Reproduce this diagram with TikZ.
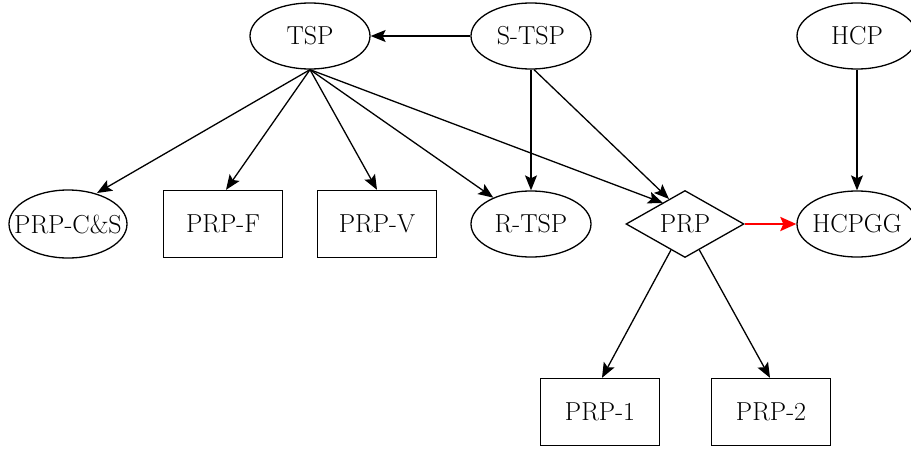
\documentclass[tikz,border=0pt]{standalone}
\usetikzlibrary{shapes.geometric,arrows.meta}
\begin{document}
\begin{tikzpicture}[x=1pt,y=-1pt,
  every node/.style={font=\fontsize{26}{30}\selectfont, line width=1.3pt, inner sep=0pt},
  ell/.style={draw, ellipse, inner xsep=-16pt, minimum width=120pt, minimum height=66pt},
  box/.style={draw, rectangle, minimum width=119pt, minimum height=67pt},
  dia/.style={draw, diamond, aspect=1.76, minimum width=118pt, minimum height=67pt},
  arr/.style={line width=1.3pt, -{Stealth[length=15pt,width=12pt,inset=3pt]}},
  redarr/.style={line width=2.6pt, red, -{Stealth[length=16pt,width=14pt,inset=3pt]}}]
\useasboundingbox (0,0) rectangle (911,450);
\node[ell] (tsp) at (310,36) {TSP};
\node[ell] (stsp) at (531,36) {S-TSP};
\node[ell] (hcp) at (857,36) {HCP};
\node[ell, minimum width=118pt, minimum height=68pt] (prpcs) at (68,224) {PRP-C\&S};
\node[box] (prpf) at (223,224) {PRP-F};
\node[box] (prpv) at (377,224) {PRP-V};
\node[ell] (rtsp) at (531,224) {R-TSP};
\node[dia] (prp) at (685,224) {PRP};
\node[ell] (hcpgg) at (857,224) {HCPGG};
\node[box] (prp1) at (600,412) {PRP-1};
\node[box] (prp2) at (771,412) {PRP-2};
\coordinate (cse) at (97,193);
\coordinate (prpa) at (663,203);
\coordinate (prpb) at (669,199);
\draw[arr] (stsp) -- (tsp);
\draw[arr] (tsp.south) -- (cse);
\draw[arr] (tsp.south) -- ([xshift=3pt]prpf.north);
\draw[arr] (tsp.south) -- (prpv.north);
\draw[arr] (tsp.south) -- (rtsp);
\draw[arr] (tsp.south) -- (prpa);
\draw[arr] (stsp.south) -- (rtsp.north);
\draw[arr] ([xshift=3pt]stsp.south) -- (prpb);
\draw[arr] (hcp) -- (hcpgg);
\draw[redarr] (prp.east) -- (hcpgg.west);
\draw[arr] (prp) -- ([xshift=2pt]prp1.north);
\draw[arr] (prp) -- ([xshift=-1pt]prp2.north);
\end{tikzpicture}
\end{document}
